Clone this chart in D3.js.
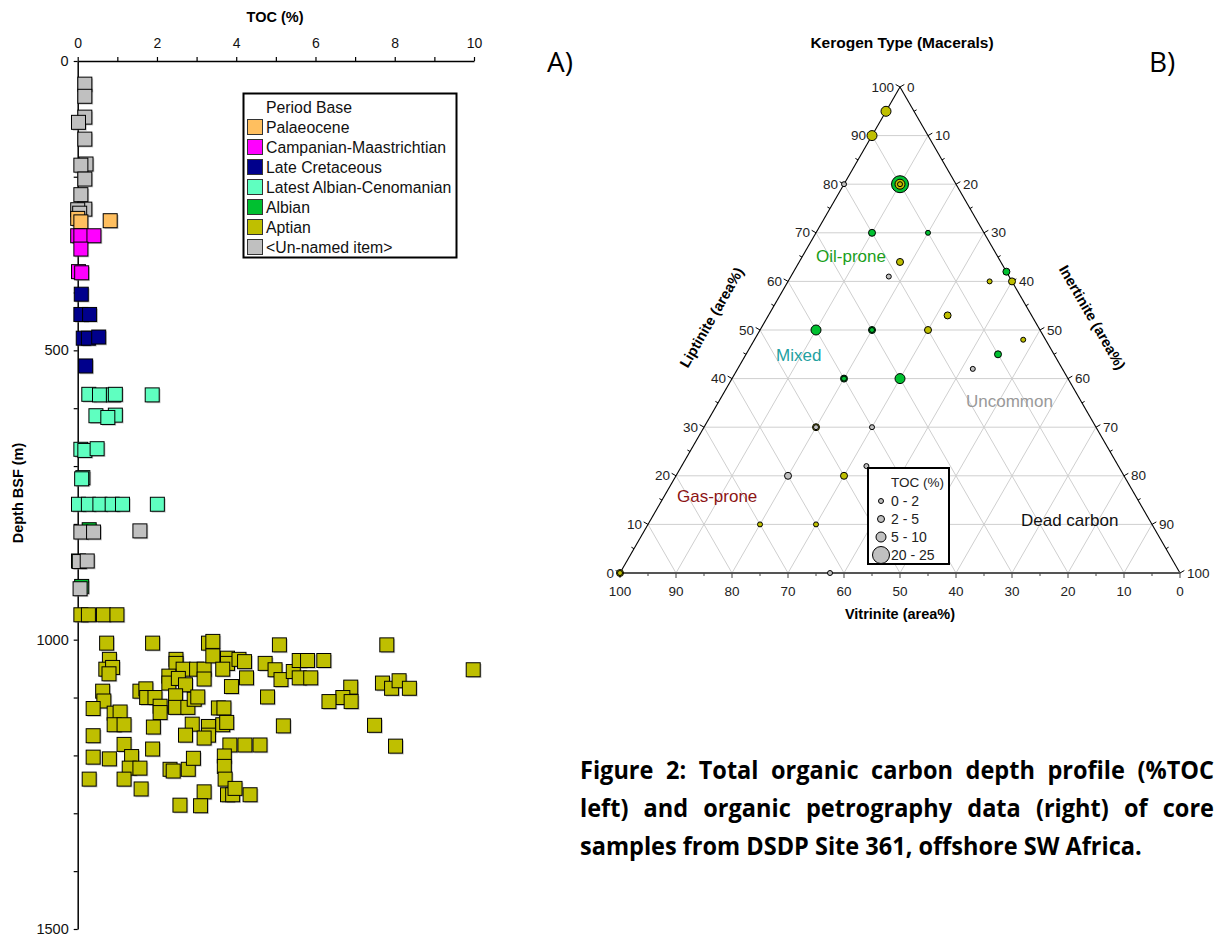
<!DOCTYPE html>
<html><head><meta charset="utf-8">
<script src="https://cdn.jsdelivr.net/npm/d3@7"></script>
<style>body{margin:0;background:#fff} svg{display:block}</style>
</head><body>
<svg id="c" width="1216" height="940"></svg>
<script>
// ---------------- DATA ----------------
const xTickValues = [0, 2, 4, 6, 8, 10];
const xMinorTicks = [1, 3, 5, 7, 9];
const yTickValues = [0, 500, 1000, 1500];
const yMinorTicks = [100, 200, 300, 400, 600, 700, 800, 900, 1100, 1200, 1300, 1400];

const periodNames = ["Palaeocene", "Campanian-Maastrichtian", "Late Cretaceous",
  "Latest Albian-Cenomanian", "Albian", "Aptian", "<Un-named item>"];
const periodColors = ["#FFBF5F", "#FF00FF", "#00008C", "#5FFFC0", "#00C030", "#BFBF00", "#C0C0C0"];

// [TOC %, depth m]
const palaeocene = [[0, 272], [0.08, 278], [0.82, 276]];
const campanian = [[0, 302], [0.08, 302], [0.41, 302], [0.08, 325], [0.02, 364], [0.1, 366]];
const lateCretaceous = [[0.09, 403], [0.08, 438], [0.3, 438], [0.14, 479], [0.27, 479], [0.53, 477], [0.2, 527]];
const latestAlbian = [[0.28, 576], [0.55, 577], [0.9, 577], [0.95, 576], [1.88, 577], [0.46, 613], [0.95, 612],
  [0.76, 616], [0.08, 671], [0.18, 673], [0.49, 670], [0.13, 720], [0.1, 722], [0.02, 766], [0.27, 766],
  [0.56, 766], [0.87, 766], [1.13, 766], [2.01, 766]];
const albian = [[0.29, 810], [0.1, 908], [0.02, 864]];
const unnamed = [[0.18, 40], [0.18, 61], [0.18, 97], [0.02, 106], [0.18, 135], [0.21, 178], [0.08, 180],
  [0.18, 204], [0.08, 231], [0.18, 256], [0, 257], [0.05, 263], [0.08, 814], [0.4, 814], [1.57, 812],
  [0.04, 865], [0.24, 864], [0.06, 912]];
const aptian = [[0.08, 957], [0.27, 957], [0.65, 957], [0.99, 957], [0.73, 1006], [1.89, 1006], [3.3, 1006],
  [3.41, 1003], [5.09, 1009], [7.8, 1009], [9.98, 1052], [0.8, 1034], [0.71, 1051], [0.88, 1048], [0.79, 1059],
  [2.48, 1034], [2.48, 1041], [2.66, 1051], [3.0, 1051], [3.19, 1051], [3.19, 1068], [3.41, 1028], [3.78, 1032],
  [3.78, 1041], [3.66, 1051], [4.07, 1034], [4.21, 1038], [4.26, 1066], [4.73, 1041], [4.98, 1052], [5.13, 1069],
  [5.44, 1055], [5.59, 1036], [5.8, 1036], [5.59, 1066], [5.88, 1066], [6.21, 1036], [2.3, 1063], [2.3, 1075],
  [2.54, 1067], [2.72, 1078], [3.88, 1081], [1.57, 1089], [1.72, 1085], [0.63, 1089], [0.66, 1106], [0.39, 1119],
  [0.92, 1127], [1.07, 1125], [0.92, 1147], [1.17, 1147], [1.74, 1100], [1.95, 1100], [2.08, 1115], [2.08, 1126],
  [2.47, 1097], [2.47, 1117], [2.78, 1117], [2.94, 1103], [3.03, 1099], [3.55, 1118], [3.69, 1118], [4.79, 1099],
  [6.89, 1082], [6.69, 1100], [6.34, 1107], [6.9, 1107], [7.69, 1075], [7.92, 1084], [8.11, 1071], [8.37, 1084],
  [1.91, 1151], [2.89, 1146], [3.3, 1150], [3.3, 1165], [3.66, 1147], [3.76, 1143], [5.19, 1149], [7.49, 1148],
  [8.02, 1184], [0.39, 1166], [1.17, 1181], [1.89, 1189], [2.72, 1165], [3.19, 1170], [3.84, 1182], [4.22, 1182],
  [4.6, 1182], [0.39, 1203], [0.8, 1206], [1.36, 1202], [1.3, 1222], [1.57, 1222], [2.33, 1224], [2.41, 1227],
  [2.79, 1224], [2.92, 1205], [3.7, 1201], [3.7, 1219], [3.72, 1241], [0.29, 1241], [1.17, 1241], [1.6, 1258],
  [3.19, 1263], [3.78, 1268], [3.91, 1268], [3.97, 1257], [4.35, 1268], [2.58, 1286], [3.1, 1287]];

// Ternary: Liptinite %, Inertinite % (Vitrinite = 100 - L - I), period, TOC class
const ternLiptinite  = [95, 90, 80, 80, 80, 80, 70, 70, 64, 61, 62, 60, 60, 53, 50, 50, 50, 50, 48, 45, 42, 40, 40, 40, 30, 30, 30, 22, 20, 20, 10, 10, 0, 0, 0];
const ternInertinite = [0, 0, 0, 10, 10, 10, 10, 20, 18, 17.5, 38, 36, 40, 32, 10, 20, 20, 30, 48, 45, 42, 20, 20, 30, 20, 20, 30, 33, 20, 30, 20, 30, 0, 0, 37.5];
const ternPeriod = ["Aptian", "Aptian", "<Un-named item>", "Albian", "Aptian", "Aptian", "Albian", "Albian", "Aptian",
  "<Un-named item>", "Albian", "Aptian", "Aptian", "Aptian", "Albian", "Albian", "Albian", "Aptian", "Aptian", "Albian",
  "<Un-named item>", "Albian", "Albian", "Albian", "Aptian", "<Un-named item>", "<Un-named item>", "<Un-named item>",
  "<Un-named item>", "Aptian", "Aptian", "Aptian", "Aptian", "Aptian", "<Un-named item>"];
const ternTocClass = [2, 2, 0, 3, 2, 0, 1, 0, 1, 0, 1, 0, 1, 1, 2, 1, 0, 1, 0, 1, 0, 1, 0, 2, 1, 0, 0, 0, 1, 1, 0, 0, 1, 0, 0];
const tocClassLabels = ["0 - 2", "2 - 5", "5 - 10", "20 - 25"];
const ternTicks = [0, 10, 20, 30, 40, 50, 60, 70, 80, 90, 100];
const ternMinor = [5, 15, 25, 35, 45, 55, 65, 75, 85, 95];
const ternGrid = [10, 20, 30, 40, 50, 60, 70, 80, 90];

const captionLines = [
  "Figure 2: Total organic carbon depth profile (%TOC",
  "left) and organic petrography data (right) of core",
  "samples from DSDP Site 361, offshore SW Africa."
];

// ---------------- DRAW ----------------
const FONT = "'Liberation Sans', Arial, sans-serif";
const svg = d3.select("#c").attr("font-family", FONT);
const color = d3.scaleOrdinal().domain(periodNames).range(periodColors);

// ===== Left chart =====
const x = d3.scaleLinear().domain([0, 10]).range([77.7, 474]);
const y = d3.scaleLinear().domain([0, 1500]).range([61, 929]);

const gx = svg.append("g").attr("transform", `translate(0,${y(0)})`)
  .call(d3.axisTop(x).tickValues(xTickValues).tickSize(4).tickSizeOuter(0).tickPadding(9).tickFormat(d3.format("d")));
svg.append("g").attr("transform", `translate(0,${y(0)})`)
  .call(d3.axisTop(x).tickValues(xMinorTicks).tickSize(4).tickSizeOuter(0).tickFormat(""))
  .select(".domain").remove();
const gy = svg.append("g").attr("transform", `translate(${x(0)},0)`)
  .call(d3.axisLeft(y).tickValues(yTickValues).tickSize(4).tickSizeOuter(0).tickPadding(5).tickFormat(d3.format("d")));
svg.append("g").attr("transform", `translate(${x(0)},0)`)
  .call(d3.axisLeft(y).tickValues(yMinorTicks).tickSize(4).tickSizeOuter(0).tickFormat(""))
  .select(".domain").remove();
svg.selectAll(".domain").attr("stroke", "#000").attr("stroke-width", 1.5);
svg.selectAll(".tick line").attr("stroke", "#000").attr("stroke-width", 1.2);
gx.selectAll(".tick text").attr("font-size", 14).attr("font-family", FONT).attr("fill", "#111");
gy.selectAll(".tick text").attr("font-size", 14.5).attr("font-family", FONT).attr("fill", "#111");

svg.append("text").attr("x", 275).attr("y", 22).attr("text-anchor", "middle")
  .attr("font-weight", "bold").attr("font-size", 14.5).text("TOC (%)");
svg.append("text").attr("transform", "translate(23,493) rotate(-90)").attr("text-anchor", "middle")
  .attr("font-weight", "bold").attr("font-size", 14.5).text("Depth BSF (m)");

const seriesOrder = [
  ["Albian", albian], ["<Un-named item>", unnamed], ["Palaeocene", palaeocene],
  ["Campanian-Maastrichtian", campanian], ["Late Cretaceous", lateCretaceous],
  ["Latest Albian-Cenomanian", latestAlbian], ["Aptian", aptian]
];
const SQ = 14;
const gPts = svg.append("g");
seriesOrder.forEach(([name, data]) => {
  const g = gPts.append("g");
  g.selectAll("rect.sh").data(data).join("rect").attr("class", "sh")
    .attr("x", d => x(d[0]) - SQ / 2 + 1.3).attr("y", d => y(d[1]) - SQ / 2 + 1.3)
    .attr("width", SQ).attr("height", SQ).attr("fill", "#777").attr("opacity", 0.45);
  g.selectAll("rect.pt").data(data).join("rect").attr("class", "pt")
    .attr("x", d => x(d[0]) - SQ / 2).attr("y", d => y(d[1]) - SQ / 2)
    .attr("width", SQ).attr("height", SQ).attr("fill", color(name))
    .attr("stroke", "#000").attr("stroke-width", 1);
});

// legend
const lg = svg.append("g");
lg.append("rect").attr("x", 243.5).attr("y", 93.5).attr("width", 213).attr("height", 164)
  .attr("fill", "#fff").attr("stroke", "#000").attr("stroke-width", 2);
lg.append("text").attr("x", 266).attr("y", 112.5).attr("font-size", 15.8).attr("fill", "#111").text("Period Base");
const li = lg.selectAll("g.it").data(periodNames).join("g").attr("class", "it")
  .attr("transform", (d, i) => `translate(0,${127 + i * 20})`);
li.append("rect").attr("x", 247.5).attr("y", -7.5).attr("width", 15).attr("height", 15)
  .attr("fill", d => color(d)).attr("stroke", "#333").attr("stroke-width", 1);
li.append("text").attr("x", 266).attr("y", 5.5).attr("font-size", 15.8).attr("fill", "#111").text(d => d);

// ===== Ternary =====
const tx = d3.scaleLinear().domain([0, 100]).range([620, 1180]);
const ty = d3.scaleLinear().domain([0, 100]).range([573, 87]);
const tp = (L, I) => [tx(I + L / 2), ty(L)];
const rScale = d3.scaleOrdinal().domain([0, 1, 2, 3]).range([2.5, 3.5, 5, 8.5]);
const gt = svg.append("g");
const line = d3.line();

// grid
ternGrid.forEach(k => {
  gt.append("path").attr("d", line([tp(k, 0), tp(k, 100 - k)]));
  gt.append("path").attr("d", line([tp(0, k), tp(100 - k, k)]));
  gt.append("path").attr("d", line([tp(0, 100 - k), tp(100 - k, 0)]));
});
gt.selectAll("path").attr("stroke", "#cfcfcf").attr("stroke-width", 1).attr("fill", "none");

// sides
gt.append("path").attr("d", line([tp(0, 0), tp(100, 0)])).attr("stroke", "#000").attr("stroke-width", 1.1);
gt.append("path").attr("d", line([tp(100, 0), tp(0, 100)])).attr("stroke", "#000").attr("stroke-width", 1.1);
gt.append("path").attr("d", line([tp(0, 0), tp(0, 100)])).attr("stroke", "#555").attr("stroke-width", 2);

// ticks
const nl = [-Math.cos(Math.PI / 6), -Math.sin(Math.PI / 6)];
const nr = [Math.cos(Math.PI / 6), -Math.sin(Math.PI / 6)];
function tick(p, n, len, col) {
  gt.append("path").attr("d", line([p, [p[0] + n[0] * len, p[1] + n[1] * len]]))
    .attr("stroke", col || "#000").attr("stroke-width", 1);
}
ternTicks.forEach(v => { tick(tp(v, 0), nl, 5); tick(tp(100 - v, v), nr, 5); tick(tp(0, 100 - v), [0, 1], 5, "#444"); });
ternMinor.forEach(v => { tick(tp(v, 0), nl, 3); tick(tp(100 - v, v), nr, 3); tick(tp(0, 100 - v), [0, 1], 3, "#444"); });

// tick labels
const tl = svg.append("g").attr("font-size", 13.5).attr("fill", "#222");
ternTicks.forEach(v => {
  const a = tp(v, 0);
  tl.append("text").attr("x", a[0] - 6).attr("y", a[1] + 4.5).attr("text-anchor", "end").text(v);
  const b = tp(100 - v, v);
  tl.append("text").attr("x", b[0] + 7).attr("y", b[1] + 4.5).attr("text-anchor", "start").text(v);
  const c = tp(0, 100 - v);
  tl.append("text").attr("x", c[0]).attr("y", c[1] + 23).attr("text-anchor", "middle").text(v);
});

// axis titles
svg.append("text").attr("x", 900).attr("y", 619).attr("text-anchor", "middle")
  .attr("font-weight", "bold").attr("font-size", 14.5).text("Vitrinite (area%)");
svg.append("text").attr("transform", "translate(716,320) rotate(-60)").attr("text-anchor", "middle")
  .attr("font-weight", "bold").attr("font-size", 14.5).text("Liptinite (area%)");
svg.append("text").attr("transform", "translate(1088,320) rotate(60)").attr("text-anchor", "middle")
  .attr("font-weight", "bold").attr("font-size", 14.5).text("Inertinite (area%)");
svg.append("text").attr("x", 902).attr("y", 48).attr("text-anchor", "middle")
  .attr("font-weight", "bold").attr("font-size", 15.5).text("Kerogen Type (Macerals)");

// region labels
const regions = [["Oil-prone", 816, 262, "#1b9e1b"], ["Mixed", 776, 361, "#22a0a0"], ["Uncommon", 966, 407, "#999999"],
  ["Gas-prone", 677, 502, "#8c1414"], ["Dead carbon", 1021, 526, "#111111"]];
regions.forEach(r => svg.append("text").attr("x", r[1]).attr("y", r[2]).attr("font-size", 17)
  .attr("fill", r[3]).text(r[0]));

// points
const tIdx = d3.range(ternLiptinite.length);
gt.selectAll("circle.tp").data(tIdx).join("circle").attr("class", "tp")
  .attr("cx", i => tp(ternLiptinite[i], ternInertinite[i])[0])
  .attr("cy", i => tp(ternLiptinite[i], ternInertinite[i])[1])
  .attr("r", i => rScale(ternTocClass[i]))
  .attr("fill", i => color(ternPeriod[i])).attr("stroke", "#000").attr("stroke-width", 1);

// ternary legend
const tg = svg.append("g");
tg.append("rect").attr("x", 868).attr("y", 468).attr("width", 81).attr("height", 96)
  .attr("fill", "#fff").attr("stroke", "#000").attr("stroke-width", 2);
tg.append("text").attr("x", 891).attr("y", 487).attr("font-size", 13.5).attr("fill", "#222").text("TOC (%)");
tocClassLabels.forEach((lab, i) => {
  const yy = 501 + i * 18;
  tg.append("circle").attr("cx", 881).attr("cy", yy).attr("r", rScale(i))
    .attr("fill", "#C0C0C0").attr("stroke", "#000").attr("stroke-width", 1);
  tg.append("text").attr("x", 891).attr("y", yy + 5).attr("font-size", 14).attr("fill", "#222").text(lab);
});

// panel labels
svg.append("text").attr("x", 547).attr("y", 72).attr("font-family", "'Open Sans', sans-serif")
  .attr("font-size", 28).text("A)");
svg.append("text").attr("x", 1149).attr("y", 72).attr("font-family", "'Open Sans', sans-serif")
  .attr("font-size", 28).text("B)");

// caption
const cap = svg.append("g").attr("font-family", "'Open Sans', sans-serif")
  .attr("font-weight", 700).attr("font-size", 25).attr("fill", "#000");
const probe = cap.append("text").text(captionLines[2]);
const k = 562 / probe.node().getComputedTextLength();
probe.remove();
cap.attr("transform", `translate(580,0) scale(${k},1)`);
const baselines = [779, 817, 855];
const ends = [634, 634];
captionLines.forEach((ln, li2) => {
  if (li2 === 2) {
    cap.append("text").attr("x", 0).attr("y", baselines[2]).text(ln);
    return;
  }
  const words = ln.split(" ");
  const els = words.map(w => cap.append("text").attr("y", baselines[li2]).text(w));
  const widths = els.map(e => e.node().getComputedTextLength());
  const total = d3.sum(widths);
  const gap = (ends[li2] / k - total) / (words.length - 1);
  let cx = 0;
  els.forEach((e, i) => { e.attr("x", cx); cx += widths[i] + gap; });
});
</script>
</body></html>
